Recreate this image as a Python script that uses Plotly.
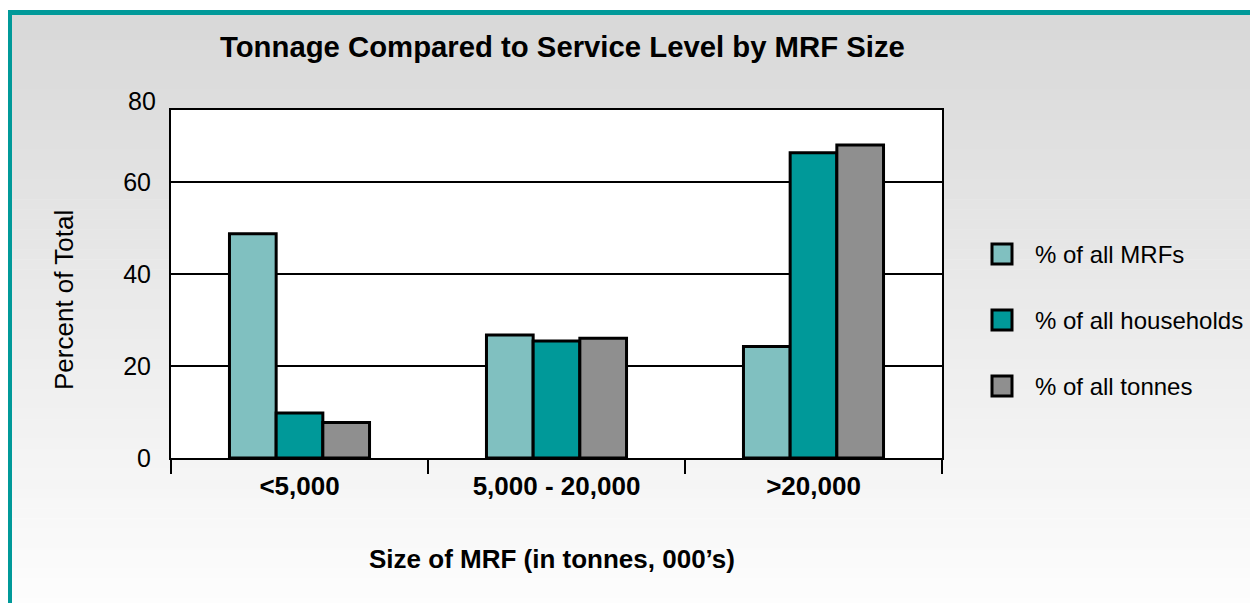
import plotly.graph_objects as go

# ---------------- data ----------------
categories = ["<5,000", "5,000 - 20,000", ">20,000"]
series_names = ["% of all MRFs", "% of all households", "% of all tonnes"]
mrfs = [48.7, 26.7, 24.2]
households = [9.8, 25.4, 66.3]
tonnes = [7.7, 26.0, 68.0]
y_tick_values = [0, 20, 40, 60]
y_tick_labels = ["0", "20", "40", "60"]
y_top_label = "80"
title_text = "Tonnage Compared to Service Level by MRF Size"
x_title = "Size of MRF (in tonnes, 000\u2019s)"
y_title = "Percent of Total"
y_max = 75.6

# ---------------- style ----------------
colors = ["#80C0C0", "#009999", "#8F8F8F"]
FONT = "Liberation Sans, Arial, sans-serif"
OFF = 8  # page body margin
VW, VH = 1258, 603
W, H = VW - OFF, VH - OFF
# plot area in page (reference) pixel coordinates
L, R, T, B = 171, 942, 110, 458


def px(x):
    return (x - L) / (R - L)


def py(y):
    return (B - y) / (B - T)


series_values = [mrfs, households, tonnes]

fig = go.Figure()
for name, vals, col in zip(series_names, series_values, colors):
    fig.add_trace(go.Bar(
        x=categories, y=vals, name=name,
        marker=dict(color=col, line=dict(color="black", width=3)),
        showlegend=False,
    ))

shapes = []
# background gradient (bands)
n_bands = 60
top_px, bot_px = 10, VH + 5
c0, c1 = 0xD8, 0xFD
for i in range(n_bands):
    y0 = top_px + (bot_px - top_px) * i / n_bands
    y1 = top_px + (bot_px - top_px) * (i + 1) / n_bands
    c = int(round(c0 + (c1 - c0) * i / (n_bands - 1)))
    shapes.append(dict(type="rect", xref="paper", yref="paper",
                       x0=px(7), x1=px(VW + 5), y0=py(y0), y1=py(y1 + 0.5),
                       fillcolor=f"rgb({c},{c},{c})", line=dict(width=0),
                       layer="below"))
# white plot area over the gradient
shapes.append(dict(type="rect", xref="paper", yref="paper",
                   x0=0, x1=1, y0=0, y1=1, fillcolor="white",
                   line=dict(width=0), layer="below"))
# teal frame (left and top)
shapes.append(dict(type="path", xref="paper", yref="paper",
                   path=f"M {px(9.5)},{py(VH + 10)} L {px(9.5)},{py(12.5)} L {px(VW + 10)},{py(12.5)}",
                   line=dict(color="#009999", width=5), layer="above"))

annotations = []
# custom legend
legend_centers = [254, 320, 386]
for name, col, cy in zip(series_names, colors, legend_centers):
    shapes.append(dict(type="rect", xref="paper", yref="paper",
                       x0=px(992), x1=px(1012), y0=py(cy + 10), y1=py(cy - 10),
                       fillcolor=col, line=dict(color="black", width=3),
                       layer="above"))
    annotations.append(dict(xref="paper", yref="paper", x=px(1033), y=py(cy),
                            text=name, showarrow=False, xanchor="left",
                            yanchor="middle",
                            font=dict(family=FONT, size=24, color="black")))

# top "80" label
annotations.append(dict(xref="paper", yref="paper", x=px(158), y=py(101),
                        text=y_top_label, showarrow=False, xanchor="right",
                        yanchor="middle",
                        font=dict(family=FONT, size=25, color="black")))
# axis titles
annotations.append(dict(xref="paper", yref="paper", x=px(552), y=py(559),
                        text=f"<b>{x_title}</b>", showarrow=False,
                        xanchor="center", yanchor="middle",
                        font=dict(family=FONT, size=26, color="black")))
annotations.append(dict(xref="paper", yref="paper", x=px(64), y=py(300),
                        text=y_title, showarrow=False, textangle=-90,
                        xanchor="center", yanchor="middle",
                        font=dict(family=FONT, size=26, color="black")))
# title
annotations.append(dict(xref="paper", yref="paper", x=px(562), y=py(46),
                        text=f"<b>{title_text}</b>", showarrow=False,
                        xanchor="center", yanchor="middle",
                        font=dict(family=FONT, size=29.3, color="black")))

fig.update_layout(
    width=W, height=H,
    margin=dict(l=L - OFF, r=W - (R - OFF), t=T - OFF, b=H - (B - OFF), pad=0),
    paper_bgcolor="white", plot_bgcolor="white",
    barmode="group", bargap=0.455, bargroupgap=0,
    font=dict(family=FONT, color="black"),
    shapes=shapes, annotations=annotations,
    showlegend=False,
    xaxis=dict(type="category", showline=True, linecolor="black", linewidth=2,
               mirror=True, ticks="outside", tickson="boundaries", ticklen=14,
               tickwidth=2, tickcolor="black", showgrid=False,
               ticklabelstandoff=4,
               tickfont=dict(family=FONT, size=26, color="black", weight="bold")),
    yaxis=dict(range=[0, y_max], tickvals=y_tick_values, ticktext=y_tick_labels,
               showgrid=True, gridcolor="black", gridwidth=2, showline=True,
               linecolor="black", linewidth=2, mirror=True, zeroline=False,
               ticks="", ticklabelstandoff=13,
               tickfont=dict(family=FONT, size=25, color="black")),
)

fig.write_html("out.html")
